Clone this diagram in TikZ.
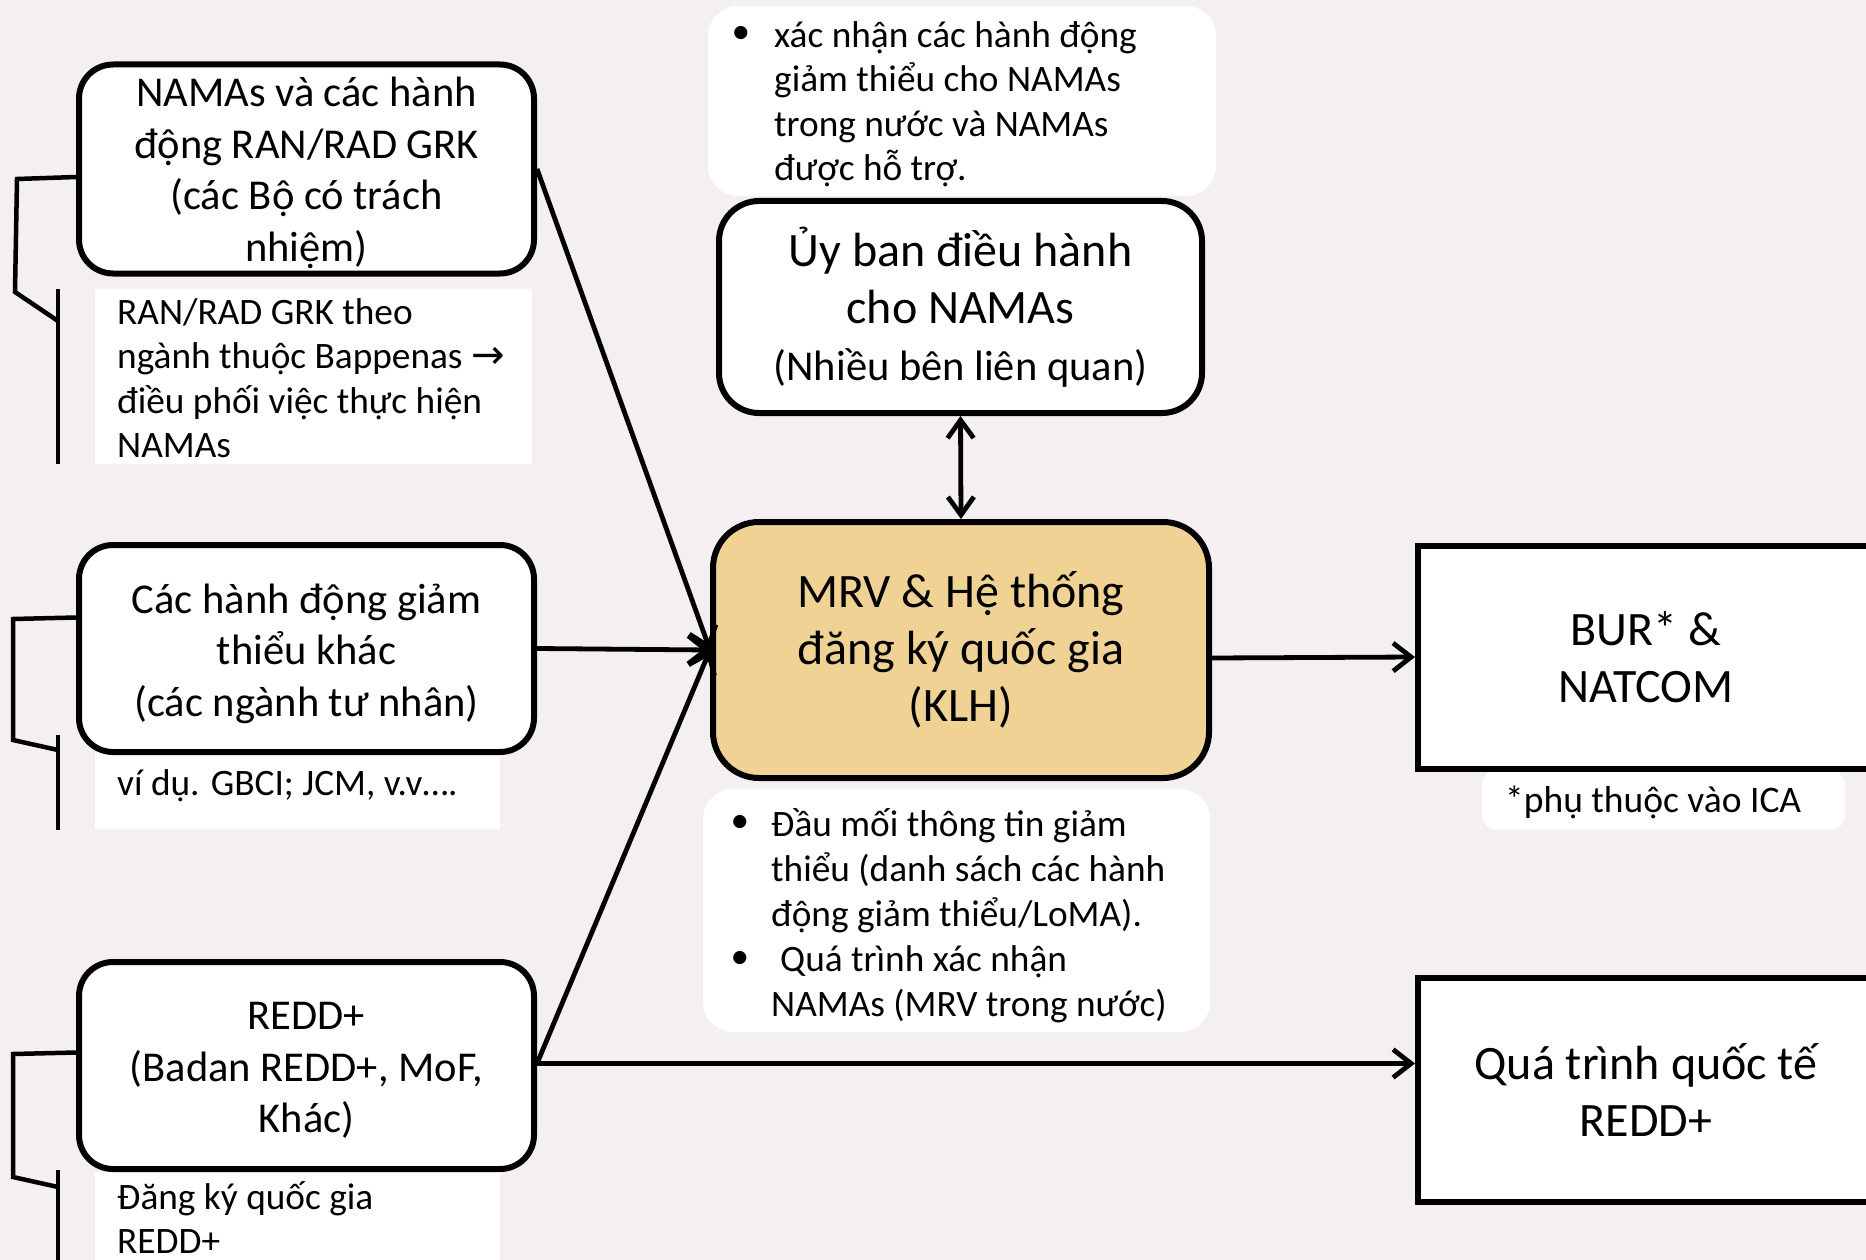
\documentclass[tikz,border=0pt]{standalone}
\usepackage{fontspec}
\setmainfont{Carlito}
\newfontfamily\symfont{DejaVu Sans}
\usetikzlibrary{arrows.meta}
\definecolor{bg}{RGB}{243,239,243}
\definecolor{mrvfill}{RGB}{240,211,148}
\begin{document}
\begin{tikzpicture}[x=1pt,y=-1pt,
  rbox/.style={draw=black, line width=6pt, rounded corners=34pt, fill=white, align=center, inner sep=0pt},
  sbox/.style={draw=black, line width=6pt, fill=white, align=center, inner sep=0pt},
  note/.style={fill=white, rounded corners=30pt, inner sep=0pt},
  sublabel/.style={fill=white, inner sep=0pt},
  txt/.style={align=left, inner sep=0pt, anchor=north west},
  ctxt/.style={align=center, inner sep=0pt},
  leftfont/.style={font=\fontsize{42.5}{51.5}\selectfont},
  subfont/.style={font=\fontsize{37.3}{44.5}\selectfont},
  notefont/.style={font=\fontsize{37.3}{45}\selectfont},
  bigfont/.style={font=\fontsize{48}{57}\selectfont},
  conn/.style={line width=4.8pt, -{Straight Barb[length=18pt,width=28pt,line width=4.8pt]}},
  brk/.style={line width=4.5pt}
]
\fill[bg] (0,0) rectangle (1866,1260);
\useasboundingbox (0,0) rectangle (1866,1260);

% sub-label backgrounds
\node[sublabel, minimum width=437pt, minimum height=175pt] (s1) at (313.5,376.5) {};
\node[sublabel, minimum width=405pt, minimum height=77pt] (s2) at (297.5,790.5) {};
\node[sublabel, minimum width=405pt, minimum height=88pt] (s3) at (297.5,1216) {};

% sub-label texts
\node[txt, subfont] (s1t) at (117,284) {\rule{0pt}{40pt}RAN/RAD GRK theo\\ngành thuộc Bappenas {\symfont\fontsize{40}{44.5}\selectfont →}\\điều phối việc thực hiện\\NAMAs};
\node[txt, subfont] (s2t) at (117,755) {\rule{0pt}{40pt}ví dụ. GBCI; JCM, v.v….};
\node[txt, subfont] (s3t) at (117,1169) {\rule{0pt}{40pt}Đăng ký quốc gia\\REDD+};

% left boxes
\node[rbox, minimum width=455pt, minimum height=209pt] (b1) at (306.5,169) {};
\node[ctxt, leftfont] (b1t) at ([yshift=-4pt]b1.center) {NAMAs và các hành\\động RAN/RAD GRK\\(các Bộ có trách\\nhiệm)};
\node[rbox, minimum width=455pt, minimum height=207pt] (b2) at (306.5,648.5) {};
\node[ctxt, leftfont] (b2t) at ([yshift=-5pt]b2.center) {Các hành động giảm\\thiểu khác\\(các ngành tư nhân)};
\node[rbox, minimum width=455pt, minimum height=207pt] (b3) at (306.5,1065.5) {};
\node[ctxt, leftfont] (b3t) at ([yshift=-5pt]b3.center) {REDD+\\(Badan REDD+, MoF,\\Khác)};

% brackets
\coordinate (k1a) at (17,179);
\coordinate (k1b) at (15,292);
\coordinate (k1c) at (58,321);
\coordinate (k1t) at (58,289);
\coordinate (k1e) at (58,464);
\draw[brk] ([yshift=-8pt]b1.west) -- (k1a) -- (k1b) -- (k1c);
\draw[brk] (k1t) -- (k1e);
\coordinate (k2a) at (13,619);
\coordinate (k2b) at (13,740);
\coordinate (k2c) at (58,750);
\coordinate (k2t) at (58,735);
\coordinate (k2e) at (58,830);
\draw[brk] ([yshift=31pt]b2.west) -- (k2a) -- (k2b) -- (k2c);
\draw[brk] (k2t) -- (k2e);
\coordinate (k3a) at (13,1054);
\coordinate (k3b) at (13,1177);
\coordinate (k3c) at (58,1187);
\coordinate (k3t) at (58,1170);
\coordinate (k3e) at (58,1260);
\draw[brk] ([yshift=13pt]b3.west) -- (k3a) -- (k3b) -- (k3c);
\draw[brk] (k3t) -- (k3e);

% top note
\node[note, minimum width=508pt, minimum height=190pt] (n1) at (962,101) {};
\node[inner sep=0pt, notefont] (n1b) at (741,35) {•};
\node[txt, notefont, font=\fontsize{37.3}{44.5}\selectfont] (n1t) at (774,7) {\rule{0pt}{40pt}xác nhận các hành động\\giảm thiểu cho NAMAs\\trong nước và NAMAs\\được hỗ trợ.};

% committee
\node[rbox, minimum width=483pt, minimum height=212pt, rounded corners=40pt, bigfont] (c) at (960.5,307) {Ủy ban điều hành\\cho NAMAs\\\fontsize{42.5}{55}\selectfont (Nhiều bên liên quan)};

% MRV
\node[rbox, fill=mrvfill, minimum width=496pt, minimum height=256pt, rounded corners=46pt, bigfont] (m) at (961,650) {MRV \& Hệ thống\\đăng ký quốc gia\\(KLH)};

% bottom note
\node[note, minimum width=507pt, minimum height=243pt] (n2) at (956.5,910.5) {};
\node[inner sep=0pt, notefont] (n2b1) at (740,824) {•};
\node[inner sep=0pt, notefont] (n2b2) at (740,960) {•};
\node[txt, notefont] (n2t) at (771,796) {\rule{0pt}{40pt}Đầu mối thông tin giảm\\thiểu (danh sách các hành\\động giảm thiểu/LoMA).\\\hspace*{9pt}Quá trình xác nhận\\NAMAs (MRV trong nước)};

% right boxes
\node[note, rounded corners=14pt, minimum width=363pt, minimum height=59pt] (ica) at (1663.5,800) {};
\node[txt, font=\fontsize{37.5}{44}\selectfont] (icat) at (1505,772) {\rule{0pt}{40pt}*phụ thuộc vào ICA};
\node[sbox, minimum width=456pt, minimum height=223pt, bigfont] (bur) at (1646,657) {BUR* \&\\NATCOM};
\node[sbox, minimum width=456pt, minimum height=224pt, bigfont] (ri) at (1646,1090) {Quá trình quốc tế\\REDD+};

% connectors
\draw[conn] (b1.east) -- (m.west);
\draw[conn] (b2.east) -- (m.west);
\draw[conn] ([yshift=2pt]b3.east) -- (m.west);
\draw[conn] ([yshift=2pt]b3.east) -- ([yshift=2pt]b3.east -| ri.west);
\draw[conn] ([yshift=-8pt]m.east) -- (bur.west);
\draw[line width=4.8pt, {Straight Barb[length=18pt,width=26pt,line width=4.8pt]}-{Straight Barb[length=18pt,width=26pt,line width=4.8pt]}] (c.south) -- (m.north);
\end{tikzpicture}
\end{document}
